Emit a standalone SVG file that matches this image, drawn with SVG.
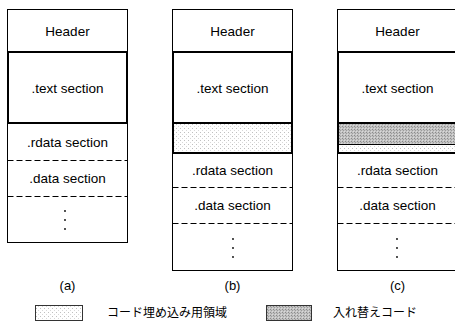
<svg xmlns="http://www.w3.org/2000/svg" width="455" height="325" viewBox="0 0 455 325">
  <style>
    .bg { fill: #ffffff; }
    .box { fill: none; stroke: #000; stroke-width: 1; }
    .thick { fill: none; stroke: #000; stroke-width: 2; }
    .dash { fill: none; stroke: #000; stroke-width: 1; stroke-dasharray: 6 3; }
    .lbl { font-family: "Liberation Sans", Arial, sans-serif; font-size: 13.5px; fill: #000; text-anchor: middle; }
    .cap { font-family: "Liberation Sans", Arial, sans-serif; font-size: 13px; fill: #000; text-anchor: middle; }
    .jp { font-family: "Liberation Sans", "Noto Sans CJK JP", sans-serif; font-size: 12px; fill: #000; }
    .dot { fill: #000; }
  </style>
  <defs>
    <!-- light dotted fill: area reserved for embedded code -->
    <pattern id="stipple" width="4" height="4" patternUnits="userSpaceOnUse">
      <rect width="4" height="4" fill="#ffffff"/>
      <rect x="0" y="0" width="1" height="1" fill="#c0c0c0"/>
      <rect x="2" y="2" width="1" height="1" fill="#d8d8d8"/>
    </pattern>
    <!-- grey hatched fill: replaced code -->
    <pattern id="hatch" width="3" height="3" patternUnits="userSpaceOnUse">
      <rect width="3" height="3" fill="#c2c2c2"/>
      <rect x="0" y="0" width="1" height="1" fill="#8a8a8a"/>
      <rect x="1" y="1" width="1" height="1" fill="#9c9c9c"/>
      <rect x="2" y="2" width="1" height="1" fill="#dadada"/>
    </pattern>
  </defs>

  <rect class="bg" x="0" y="0" width="455" height="325"/>

  <!-- (a) original layout -->
  <g id="layout-a">
    <rect class="box" x="7.5" y="9.5" width="120" height="233"/>
    <rect class="thick" x="8" y="52" width="119" height="71"/>
    <line class="dash" x1="7.5" y1="160.5" x2="127.5" y2="160.5"/>
    <line class="dash" x1="7.5" y1="196.5" x2="127.5" y2="196.5"/>
    <text class="lbl" x="67.5" y="36">Header</text>
    <text class="lbl" x="67.5" y="93">.text section</text>
    <text class="lbl" x="67.5" y="147">.rdata section</text>
    <text class="lbl" x="67.5" y="183">.data section</text>
    <circle class="dot" cx="65" cy="211" r="0.9"/>
    <circle class="dot" cx="65" cy="220" r="0.9"/>
    <circle class="dot" cx="65" cy="229" r="0.9"/>
    <text class="cap" x="67.5" y="290">(a)</text>
  </g>

  <!-- (b) enlarged .text section with reserved area -->
  <g id="layout-b">
    <rect class="box" x="172.5" y="9.5" width="120" height="261"/>
    <rect x="173" y="123" width="119" height="30" fill="url(#stipple)"/>
    <rect class="thick" x="173" y="52" width="119" height="101"/>
    <line class="thick" x1="173" y1="123" x2="292" y2="123"/>
    <line class="dash" x1="172.5" y1="187.5" x2="292.5" y2="187.5"/>
    <line class="dash" x1="172.5" y1="223.5" x2="292.5" y2="223.5"/>
    <text class="lbl" x="232.5" y="36">Header</text>
    <text class="lbl" x="232.5" y="93">.text section</text>
    <text class="lbl" x="232.5" y="175">.rdata section</text>
    <text class="lbl" x="232.5" y="210">.data section</text>
    <circle class="dot" cx="233" cy="239" r="0.9"/>
    <circle class="dot" cx="233" cy="248" r="0.9"/>
    <circle class="dot" cx="233" cy="257" r="0.9"/>
    <text class="cap" x="232.5" y="290">(b)</text>
  </g>

  <!-- (c) reserved area partly filled with replaced code -->
  <g id="layout-c">
    <rect class="box" x="337.5" y="9.5" width="120" height="261"/>
    <rect x="338" y="144" width="119" height="9" fill="url(#stipple)"/>
    <rect x="338" y="123" width="119" height="21" fill="url(#hatch)"/>
    <line class="box" x1="338" y1="144.5" x2="457" y2="144.5"/>
    <rect class="thick" x="338" y="52" width="119" height="101"/>
    <line class="thick" x1="338" y1="123" x2="457" y2="123"/>
    <line class="dash" x1="337.5" y1="187.5" x2="457.5" y2="187.5"/>
    <line class="dash" x1="337.5" y1="223.5" x2="457.5" y2="223.5"/>
    <text class="lbl" x="397.5" y="36">Header</text>
    <text class="lbl" x="397.5" y="93">.text section</text>
    <text class="lbl" x="397.5" y="175">.rdata section</text>
    <text class="lbl" x="397.5" y="210">.data section</text>
    <circle class="dot" cx="397" cy="239" r="0.9"/>
    <circle class="dot" cx="397" cy="248" r="0.9"/>
    <circle class="dot" cx="397" cy="257" r="0.9"/>
    <text class="cap" x="397.5" y="290">(c)</text>
  </g>

  <!-- legend -->
  <g id="legend-reserved">
    <rect x="35.5" y="305.5" width="47" height="15" fill="url(#stipple)" stroke="#333" stroke-width="1"/>
    <text class="jp" x="107" y="317">コード埋め込み用領域</text>
  </g>
  <g id="legend-replaced">
    <rect x="266.5" y="305.5" width="45" height="15" fill="url(#hatch)" stroke="#333" stroke-width="1"/>
    <text class="jp" x="333" y="317">入れ替えコード</text>
  </g>
</svg>
